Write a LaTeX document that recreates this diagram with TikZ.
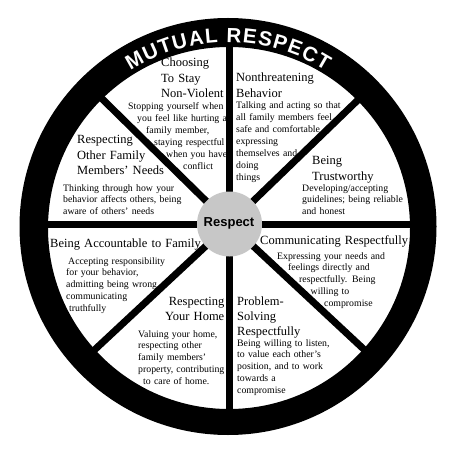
\documentclass[tikz,border=0pt]{standalone}
\usepackage{fontspec}
\setmainfont{Liberation Serif}
\setsansfont{Liberation Sans}
\usetikzlibrary{decorations.text,calc}
\definecolor{hubgray}{gray}{0.78}
\begin{document}
\begin{tikzpicture}[x=1pt,y=-1pt,
  head/.style={inner sep=0pt, text width=200pt, align=left, font=\fontsize{12.5}{15.2}\selectfont},
  headr/.style={head, align=right},
  body/.style={inner sep=0pt, text width=200pt, align=left, font=\fontsize{9.8}{11.9}\selectfont},
  spoke/.style={line width=7pt}]
\useasboundingbox (0,0) rectangle (454,454);
\fill[white] (0,0) rectangle (454,454);
\coordinate (rc) at (228,226.5);
\coordinate (ic) at (229,228);
\coordinate (hc) at (229.5,224);
% rim
\fill[black, even odd rule] (rc) circle[radius=208.5] (ic) circle[radius=181];
% spokes (angles in the flipped frame)
\foreach \a [count=\i] in {0,43,90,137,180,224.5,270,316} {
  \coordinate (sp\i) at ($(hc)+(\a:195)$);
}
\foreach \i in {1,...,8} \draw[spoke] (hc) -- (sp\i);
% hub
\fill[hubgray] (hc) circle[radius=32.5];
\node[font=\sffamily\bfseries\fontsize{13}{13}\selectfont] (hub) at (229,223.5) {Respect};
% title on the rim
\path[decorate, decoration={text along path, text color=white,
  text={|\sffamily\bfseries\fontsize{20.5}{20.5}\selectfont|MUTUAL RESPECT},
  text align={fit to path}}]
  (rc) ++(238:184) arc[start angle=238, end angle=302, radius=184];
% segment texts
\node[head, anchor=base west] (h1) at (161,67) {Choosing\\To Stay\\Non-Violent};
\node[body, anchor=base west] (t1) at (128,110) {Stopping yourself when\\\hspace*{9pt}you feel like hurting a\\\hspace*{18pt}family member,\\\hspace*{26pt}staying respectful\\\hspace*{38pt}when you have\\\hspace*{55pt}conflict};
\node[head, anchor=base west] (h2) at (236,82) {Nonthreatening\\Behavior};
\node[body, anchor=base west] (t2) at (236,109) {Talking and acting so that\\all family members feel\\safe and comfortable\\expressing\\themselves and\\doing\\things};
\node[head, anchor=base west] (h3) at (312,165) {Being\\Trustworthy};
\node[body, anchor=base west] (t3) at (302,191) {Developing/accepting\\guidelines; being reliable\\and honest};
\node[head, anchor=base west] (h4) at (260,244) {Communicating Respectfully};
\node[body, anchor=base west] (t4) at (277,259) {Expressing your needs and\\\hspace*{11pt}feelings directly and\\\hspace*{22pt}respectfully. Being\\\hspace*{33.5pt}willing to\\\hspace*{47pt}compromise};
\node[head, anchor=base west] (h5) at (237,305) {Problem-\\Solving\\Respectfully};
\node[body, anchor=base west] (t5) at (237,346) {Being willing to listen,\\to value each other's\\position, and to work\\towards a\\compromise};
\node[headr, anchor=base east] (h6) at (224.5,305) {Respecting\\Your Home};
\node[body, anchor=base west] (t6) at (138,337) {Valuing your home,\\respecting other\\family members'\\property, contributing\\\hspace*{5pt}to care of home.};
\node[head, anchor=base west] (h7) at (50,247) {Being Accountable to Family};
\node[body, anchor=base west] (t7) at (66,264) {\hspace*{2pt}Accepting responsibility\\for your behavior,\\admitting being wrong,\\communicating\\\hspace*{3pt}truthfully};
\node[head, anchor=base west] (h8) at (77,144) {Respecting\\Other Family\\Members' Needs};
\node[body, anchor=base west] (t8) at (63,191) {Thinking through how your\\behavior affects others, being\\aware of others' needs};
\end{tikzpicture}
\end{document}
